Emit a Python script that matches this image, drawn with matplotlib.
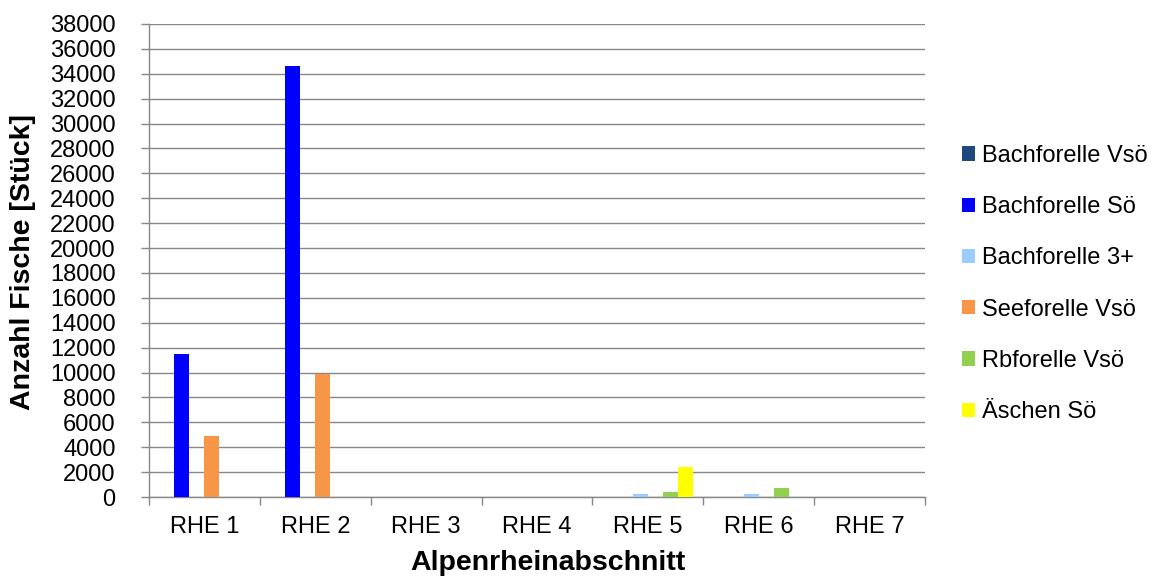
import matplotlib
matplotlib.use("Agg")
import matplotlib.pyplot as plt
import numpy as np
from matplotlib.patches import Patch

plt.rcParams["font.family"] = ["Liberation Sans", "DejaVu Sans"]

# categories and series
categories = ["RHE 1", "RHE 2", "RHE 3", "RHE 4", "RHE 5", "RHE 6", "RHE 7"]
series_names = ["Bachforelle Vsö", "Bachforelle Sö", "Bachforelle 3+",
                "Seeforelle Vsö", "Rbforelle Vsö", "Äschen Sö"]
series_colors = ["#1F497D", "#0000FF", "#99CCFF", "#F79646", "#92D050", "#FFFF00"]

bachforelle_vso = [0, 0, 0, 0, 0, 0, 0]
bachforelle_so = [11500, 34600, 0, 0, 0, 0, 0]
bachforelle_3p = [0, 0, 0, 0, 270, 270, 0]
seeforelle_vso = [4900, 9850, 0, 0, 0, 0, 0]
rbforelle_vso = [0, 0, 0, 0, 400, 750, 0]
aeschen_so = [0, 0, 0, 0, 2450, 0, 0]

series_values = [bachforelle_vso, bachforelle_so, bachforelle_3p,
                 seeforelle_vso, rbforelle_vso, aeschen_so]

W, H = 1154, 581
fig = plt.figure(figsize=(W / 100, H / 100), dpi=100)
ax = fig.add_axes([149 / W, 1 - 497 / H, (925 - 149) / W, (497 - 24) / H])

GRID = "#878787"
x = np.arange(len(categories))
bw = 0.1353
for i, (vals, col) in enumerate(zip(series_values, series_colors)):
    ax.bar(x + (i - 2.5) * bw, vals, width=bw, color=col, zorder=3)

ax.set_xlim(-0.5, len(categories) - 0.5)
ax.set_ylim(0, 38000)
ax.set_yticks(np.arange(0, 38001, 2000))
ax.grid(axis="y", color=GRID, linewidth=1.0, zorder=0)
ax.set_axisbelow(True)

# x ticks at boundaries, labels at centres
ax.set_xticks(np.arange(-0.5, len(categories), 1.0))
ax.set_xticklabels([])
ax.set_xticks(x, minor=True)
ax.set_xticklabels(categories, minor=True)
ax.tick_params(axis="x", which="major", length=6, width=1, color=GRID, direction="out")
ax.tick_params(axis="x", which="minor", length=0, pad=14, labelsize=17)
ax.tick_params(axis="y", length=6, width=1, color=GRID, pad=18, labelsize=17)

for s in ["top", "right"]:
    ax.spines[s].set_visible(False)
for s in ["left", "bottom"]:
    ax.spines[s].set_color(GRID)
    ax.spines[s].set_linewidth(1.0)

fig.text(548 / W, 1 - 563 / H, "Alpenrheinabschnitt", ha="center", va="center",
         fontsize=20.5, fontweight="bold")
fig.text(23 / W, 1 - 262 / H, "Anzahl Fische [Stück]", ha="center", va="center",
         rotation=90, fontsize=20.5, fontweight="bold")

handles = [Patch(facecolor=c, edgecolor="none") for c in series_colors]
fig.legend(handles, series_names, loc="center left",
           bbox_to_anchor=(962 / W, 1 - 284 / H), frameon=False,
           fontsize=17, handlelength=0.55, handleheight=0.55,
           handletextpad=0.3, labelspacing=1.24, borderpad=0, borderaxespad=0)

fig.savefig("out.png", dpi=100)
